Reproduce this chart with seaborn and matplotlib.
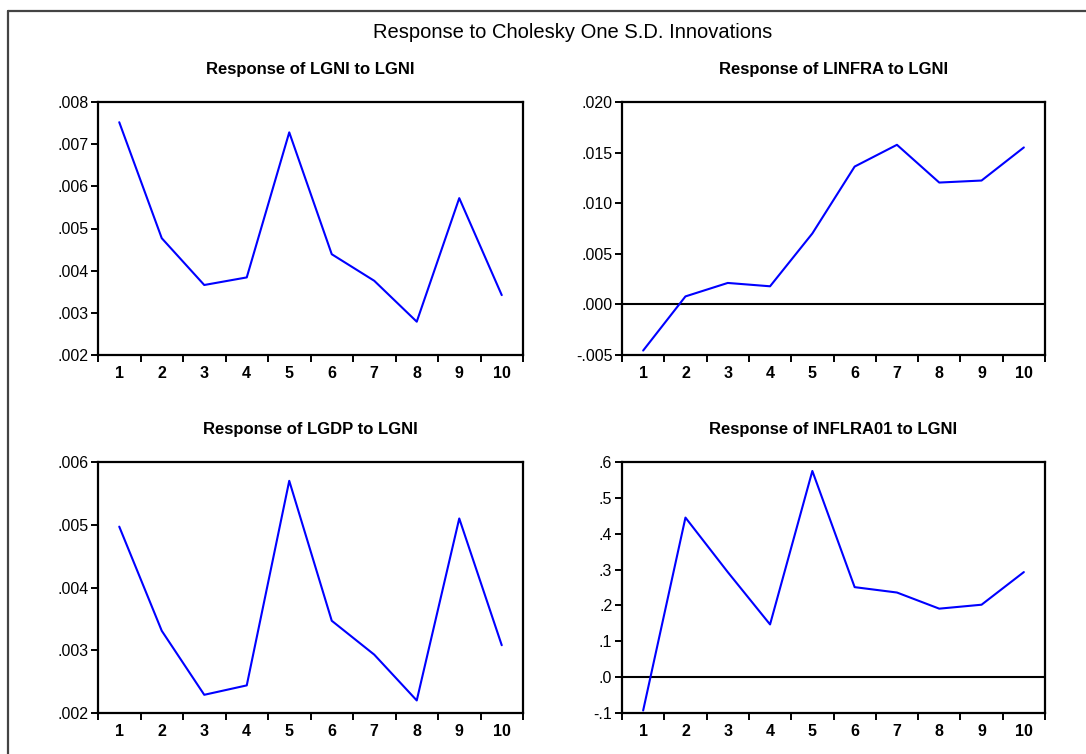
import matplotlib.pyplot as plt
import seaborn as sns
from matplotlib.lines import Line2D

# Impulse responses (periods 1..10)
periods = [1, 2, 3, 4, 5, 6, 7, 8, 9, 10]
lgni = [0.00752, 0.00477, 0.00366, 0.00384, 0.00728, 0.00439, 0.00376, 0.00279, 0.00572, 0.00342]
linfra = [-0.00456, 0.00079, 0.00212, 0.00179, 0.00701, 0.01362, 0.01577, 0.01204, 0.01224, 0.01551]
lgdp = [0.00497, 0.00331, 0.00229, 0.00244, 0.00570, 0.00347, 0.00293, 0.00220, 0.00510, 0.00308]
inflra01 = [-0.093, 0.445, 0.293, 0.147, 0.575, 0.251, 0.236, 0.191, 0.202, 0.293]

titles = ["Response of LGNI to LGNI", "Response of LINFRA to LGNI",
          "Response of LGDP to LGNI", "Response of INFLRA01 to LGNI"]
yticks = [[0.002, 0.003, 0.004, 0.005, 0.006, 0.007, 0.008],
          [-0.005, 0.000, 0.005, 0.010, 0.015, 0.020],
          [0.002, 0.003, 0.004, 0.005, 0.006],
          [-0.1, 0.0, 0.1, 0.2, 0.3, 0.4, 0.5, 0.6]]
decimals = [3, 3, 3, 1]

sns.set_theme(style="ticks")
plt.rcParams["font.family"] = ["Liberation Sans", "DejaVu Sans"]
plt.rcParams["text.color"] = "black"

W, H = 1086, 754
fig = plt.figure(figsize=(W / 100, H / 100), dpi=100)


def rect(x0, x1, y0, y1):
    return [x0 / W, 1 - y1 / H, (x1 - x0) / W, (y1 - y0) / H]


rects = [rect(98, 523, 102, 355), rect(622, 1045, 102, 355),
         rect(98, 523, 462, 713), rect(622, 1045, 462, 713)]
series = [lgni, linfra, lgdp, inflra01]


def fmt(v, d):
    s = f"{v:.{d}f}"
    return s.replace("0.", ".", 1)


for i in range(4):
    ax = fig.add_axes(rects[i])
    ticks = yticks[i]
    if ticks[0] < 0:
        ax.axhline(0, color="black", lw=1.5, zorder=1)
    sns.lineplot(x=periods, y=series[i], ax=ax, color="#0000ff", lw=1.5, zorder=2)
    ax.set_xlim(0.5, 10.5)
    ax.set_ylim(ticks[0], ticks[-1])
    ax.set_yticks(ticks)
    ax.set_yticklabels([fmt(v, decimals[i]) for v in ticks], fontsize=11.5)
    ax.set_xticks(periods)
    ax.set_xticklabels([str(p) for p in periods], fontsize=11.5, fontweight="bold")
    ax.set_xticks([p + 0.5 for p in [0] + periods], minor=True)
    ax.tick_params(axis="x", which="major", length=0, pad=8, colors="black")
    ax.tick_params(axis="x", which="minor", length=5, width=1.4, direction="out", color="black")
    ax.tick_params(axis="y", length=5, width=1.4, direction="out", pad=2, colors="black")
    for sp in ax.spines.values():
        sp.set_visible(True)
        sp.set_color("black")
        sp.set_linewidth(1.6)
    ax.set_title(titles[i], fontsize=12, fontweight="bold", pad=20, color="black")

fig.text(573 / W, 1 - 33 / H, "Response to Cholesky One S.D. Innovations",
         ha="center", va="center", fontsize=14.5, color="black")

# outer frame (top and left edges visible in the reference)
fig.add_artist(Line2D([8 / W, 1], [1 - 11 / H, 1 - 11 / H], transform=fig.transFigure,
                      color="#444444", lw=1.6))
fig.add_artist(Line2D([8 / W, 8 / W], [0, 1 - 11 / H], transform=fig.transFigure,
                      color="#444444", lw=1.6))

fig.savefig("out.png", dpi=100)
